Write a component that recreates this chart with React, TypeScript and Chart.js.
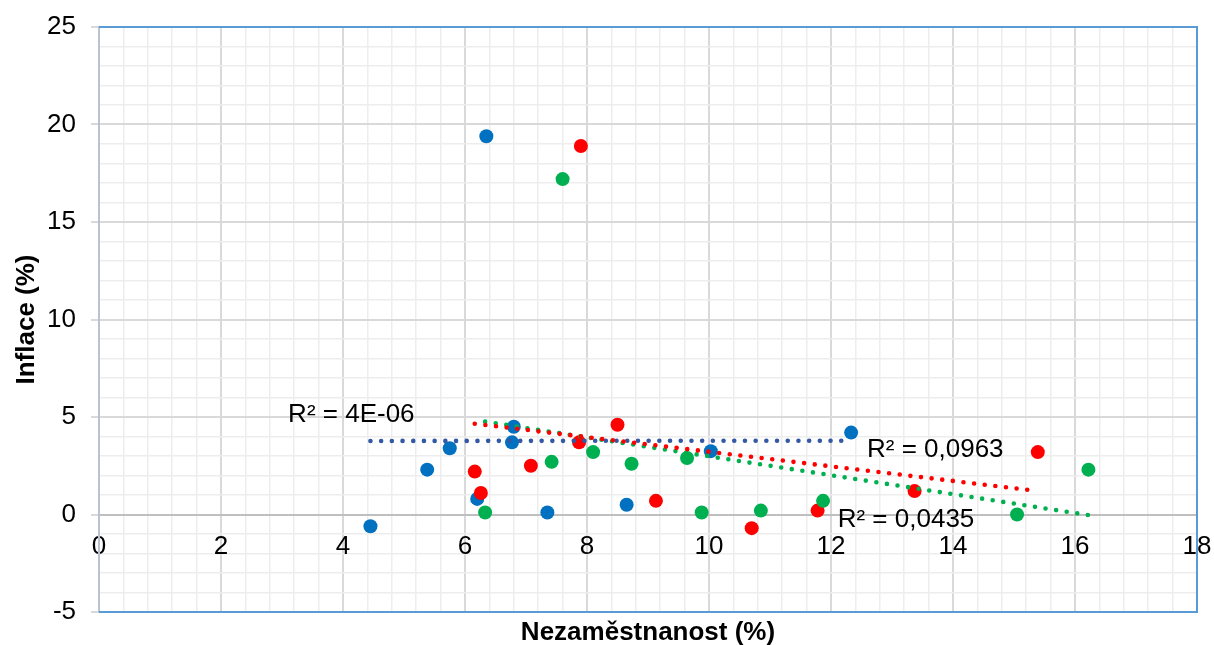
import React, { useEffect, useRef } from 'react';
import { Chart, registerables } from 'chart.js';

Chart.register(...registerables);

// ---- data ----
const blueX = [4.45, 5.38, 5.75, 6.2, 6.35, 6.8, 6.77, 7.35, 8.65, 10.03, 12.33];
const blueY = [-0.6, 2.3, 3.4, 0.8, 19.4, 4.5, 3.7, 0.1, 0.5, 3.25, 4.2];

const redX = [6.16, 6.26, 7.08, 7.87, 8.5, 9.13, 10.7, 11.78, 13.37, 15.39, 7.9];
const redY = [2.2, 1.1, 2.5, 3.7, 4.6, 0.7, -0.7, 0.2, 1.2, 3.2, 18.9];

const greenX = [6.33, 7.42, 8.1, 8.73, 9.64, 9.88, 10.85, 11.87, 15.05, 16.22, 7.6];
const greenY = [0.1, 2.7, 3.2, 2.6, 2.9, 0.1, 0.2, 0.7, 0.0, 2.3, 17.2];

const r2Texts = ['R² = 4E-06', 'R² = 0,0963', 'R² = 0,0435'];
const r2X = [3.1, 12.59, 12.11];
const r2Y = [4.74, 2.95, -0.64];

const xMin = 0;
const xMax = 18;
const yMin = -5;
const yMax = 25;
const xTitle = 'Nezaměstnanost (%)';
const yTitle = 'Inflace (%)';

const FONT = '"Liberation Sans", Arial, Helvetica, sans-serif';
const BLUE = '#0070c0';
const RED = '#ff0000';
const GREEN = '#00b050';
const BLUE_TREND = '#3358a4';

const toPoints = (xs: number[], ys: number[]) => xs.map((x, i) => ({ x, y: ys[i] }));

// least-squares linear trendline between min and max x of a series
function trend(xs: number[], ys: number[]) {
  const n = xs.length;
  const mx = xs.reduce((a, b) => a + b, 0) / n;
  const my = ys.reduce((a, b) => a + b, 0) / n;
  let sxy = 0;
  let sxx = 0;
  for (let i = 0; i < n; i++) {
    sxy += (xs[i] - mx) * (ys[i] - my);
    sxx += (xs[i] - mx) * (xs[i] - mx);
  }
  const b = sxy / sxx;
  const a = my - b * mx;
  const lo = Math.min(...xs);
  const hi = Math.max(...xs);
  return [
    { x: lo, y: a + b * lo },
    { x: hi, y: a + b * hi },
  ];
}

const isMult = (v: number, m: number) => Math.abs(v / m - Math.round(v / m)) < 1e-6;

const MAJOR = '#d9d9d9';
const MINOR = '#ededed';

const framePlugin = {
  id: 'frame',
  afterDatasetsDraw(chart: any) {
    const { ctx, scales } = chart;
    const x = scales.x;
    const y = scales.y;
    ctx.save();
    ctx.font = `26px ${FONT}`;
    ctx.fillStyle = '#000';
    ctx.textAlign = 'left';
    ctx.textBaseline = 'alphabetic';
    r2Texts.forEach((t, i) => {
      ctx.fillText(t, x.getPixelForValue(r2X[i]), y.getPixelForValue(r2Y[i]));
    });
    ctx.restore();
  },
  afterDraw(chart: any) {
    const { ctx, chartArea } = chart;
    const { left, right, top, bottom } = chartArea;
    ctx.save();
    ctx.lineWidth = 2;
    ctx.strokeStyle = '#5b9bd5';
    ctx.beginPath();
    ctx.moveTo(left, top);
    ctx.lineTo(right, top);
    ctx.lineTo(right, bottom);
    ctx.lineTo(left, bottom);
    ctx.stroke();
    ctx.restore();
  },
};

export default function App() {
  const ref = useRef<HTMLCanvasElement>(null);

  useEffect(() => {
    const trendCommon = {
      showLine: true,
      pointRadius: 0,
      pointHoverRadius: 0,
      borderWidth: 4.6,
      borderDash: [0, 10.7],
      borderCapStyle: 'round',
      fill: false,
    };
    const pointCommon = {
      showLine: false,
      pointRadius: 7,
      pointHoverRadius: 7,
      pointBorderWidth: 0,
    };
    const chart = new Chart(ref.current as HTMLCanvasElement, {
      type: 'scatter',
      data: {
        datasets: [
          { ...trendCommon, data: trend(redX, redY), borderColor: RED, order: 0 } as any,
          { ...trendCommon, data: trend(greenX, greenY), borderColor: GREEN, order: 1 } as any,
          { ...trendCommon, data: trend(blueX, blueY), borderColor: BLUE_TREND, order: 2 } as any,
          { ...pointCommon, data: toPoints(greenX, greenY), backgroundColor: GREEN, borderColor: GREEN, order: 3 },
          { ...pointCommon, data: toPoints(redX, redY), backgroundColor: RED, borderColor: RED, order: 4 },
          { ...pointCommon, data: toPoints(blueX, blueY), backgroundColor: BLUE, borderColor: BLUE, order: 5 },
        ],
      },
      options: {
        animation: false,
        responsive: true,
        maintainAspectRatio: false,
        events: [],
        layout: { padding: { top: 27, right: 17, bottom: 0, left: 0 } },
        plugins: {
          legend: { display: false },
          tooltip: { enabled: false },
        },
        scales: {
          x: {
            type: 'linear',
            min: xMin,
            max: xMax,
            position: { y: 0 } as any,
            ticks: {
              stepSize: 0.4,
              autoSkip: false,
              maxRotation: 0,
              minRotation: 0,
              padding: 9,
              color: '#000',
              font: { family: FONT, size: 26 },
              callback: (v: any) => (isMult(Number(v), 2) ? String(Math.round(Number(v))) : ''),
            },
            grid: {
              color: (c: any) => (c.tick && isMult(c.tick.value, 2) ? MAJOR : MINOR),
              lineWidth: (c: any) => (c.tick && isMult(c.tick.value, 2) ? 2 : 1.5),
              tickLength: 8,
              tickColor: 'rgba(0,0,0,0)',
            },
            border: { color: '#bfbfbf', width: 2 },
            afterFit: (s: any) => {
              s.paddingLeft = 0;
              s.paddingRight = 0;
            },
          } as any,
          x2: {
            type: 'linear',
            axis: 'x',
            position: 'bottom',
            min: xMin,
            max: xMax,
            grid: { display: false },
            ticks: { display: false },
            border: { display: false },
            title: {
              display: true,
              text: xTitle,
              color: '#000',
              font: { family: FONT, size: 26, weight: 'bold', lineHeight: 1 },
              padding: { top: 0, bottom: -1 },
            },
            afterFit: (s: any) => {
              s.height = 33;
              s.paddingLeft = 0;
              s.paddingRight = 0;
            },
          } as any,
          y: {
            type: 'linear',
            min: yMin,
            max: yMax,
            position: 'left',
            ticks: {
              stepSize: 1,
              autoSkip: false,
              padding: 15,
              color: '#000',
              font: { family: FONT, size: 26 },
              callback: (v: any) => (isMult(Number(v), 5) ? String(Math.round(Number(v))) : ''),
            },
            grid: {
              color: (c: any) => (c.tick && isMult(c.tick.value, 5) ? MAJOR : MINOR),
              lineWidth: (c: any) => (c.tick && isMult(c.tick.value, 5) ? 2 : 1.5),
              tickLength: 8,
              tickColor: (c: any) => (c.tick && isMult(c.tick.value, 5) ? MAJOR : 'rgba(0,0,0,0)'),
            },
            border: { color: '#b7c3cf', width: 2 },
            title: {
              display: true,
              text: yTitle,
              color: '#000',
              font: { family: FONT, size: 26, weight: 'bold', lineHeight: 1 },
              padding: { top: 14, bottom: 0 },
            },
            afterFit: (s: any) => {
              s.width = 99;
              s.paddingTop = 0;
              s.paddingBottom = 0;
            },
          } as any,
        },
      } as any,
      plugins: [framePlugin],
    });
    return () => chart.destroy();
  }, []);

  return (
    <div style={{ position: 'absolute', left: 0, top: 0, width: 1214, height: 645 }}>
      <canvas ref={ref} />
    </div>
  );
}
